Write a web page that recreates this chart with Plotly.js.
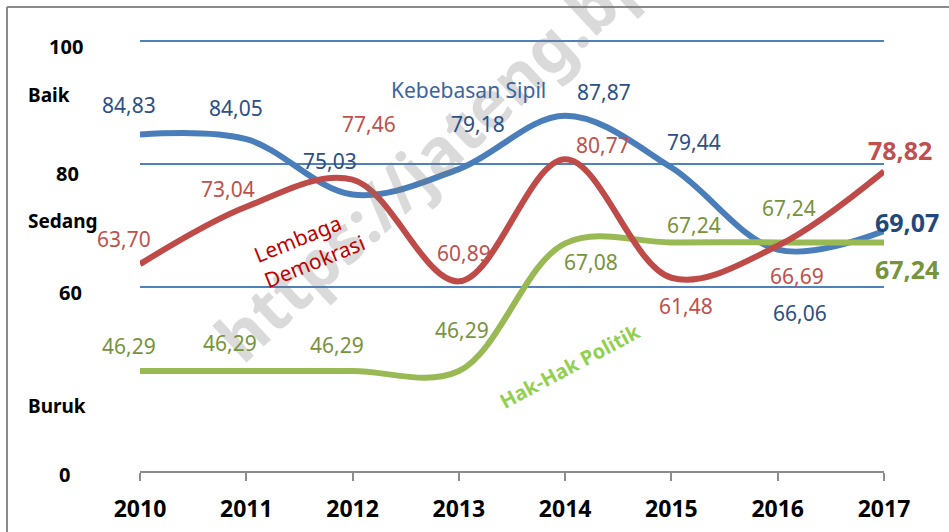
<!DOCTYPE html>
<html>
<head>
<meta charset="utf-8">
<script src="https://cdn.plot.ly/plotly-3.0.1.min.js"></script>
<style>html,body{margin:0;padding:0;background:#fff;}#chart{width:949px;height:532px;}</style>
</head>
<body>
<div id="chart"></div>
<script>
// ---- data ----
const years = [2010, 2011, 2012, 2013, 2014, 2015, 2016, 2017];
const kebebasanSipil = [84.83, 84.05, 75.03, 79.18, 87.87, 79.44, 66.06, 69.07];
const lembagaDemokrasi = [63.70, 73.04, 77.46, 60.89, 80.77, 61.48, 66.69, 78.82];
const hakHakPolitik = [46.29, 46.29, 46.29, 46.29, 67.08, 67.24, 67.24, 67.24];
const gridValues = [60, 80, 100];
const gridLabels = ['60', '80', '100'];
const categoryLabels = ['Baik', 'Sedang', 'Buruk'];
const seriesNames = ['Kebebasan Sipil', 'Lembaga Demokrasi', 'Hak-Hak Politik'];
const watermark = 'https://jateng.bps.go.id';

// ---- label offsets in pixels (dx right, dy down) ----
const blueOff = [[-11,-29],[-10,-31],[-23,-34],[19,-45],[39,-24],[23,-25],[22,63],[23,-9]];
const redOff  = [[-16,-25],[-18,-18],[16,-56],[5,-28],[38,-14],[15,28],[19,30],[16,-21]];
const greenOff= [[-11,-25],[-16,-28],[-16,-26],[3,-41],[26,19],[23,-17],[11,-34],[23,27]];

const L = 140, R = 65, T = 29, B = 61, W = 949, H = 532;
const pw = W - L - R, ph = H - T - B;
const px = p => (p - L) / pw;
const py = p => (H - B - p) / ph;

const FONT = 'Noto Sans, Liberation Sans, Arial, sans-serif';
const lineBlue = '#4A7EBB', lineRed = '#BE4B48', lineGreen = '#98B954';
const txtBlue = '#2C4F86', txtRed = '#C0504D', txtGreen = '#77933C';

const fmt = v => v.toFixed(2).replace('.', ',');

const traces = [
  {x: years, y: kebebasanSipil, name: seriesNames[0], mode: 'lines', line: {color: lineBlue, width: 6, shape: 'spline', smoothing: 1}, hoverinfo: 'skip'},
  {x: years, y: hakHakPolitik, name: seriesNames[2], mode: 'lines', line: {color: lineGreen, width: 6, shape: 'spline', smoothing: 1}, hoverinfo: 'skip'},
  {x: years, y: lembagaDemokrasi, name: seriesNames[1], mode: 'lines', line: {color: lineRed, width: 6, shape: 'spline', smoothing: 1}, hoverinfo: 'skip'}
];

const annotations = [];
// watermark (drawn first, beneath other annotations)
annotations.push({x: px(509), y: py(82), xref: 'paper', yref: 'paper', text: watermark, showarrow: false,
  textangle: -43, xanchor: 'center', yanchor: 'middle', font: {family: FONT, size: 66, color: 'rgba(120,120,120,0.27)', weight: 'bold'}});

function valueLabels(vals, offs, color) {
  vals.forEach((v, i) => {
    const last = i === vals.length - 1;
    annotations.push({
      x: years[i], y: v, xref: 'x', yref: 'y', text: fmt(v), showarrow: false,
      xshift: offs[i][0], yshift: -offs[i][1], xanchor: 'center', yanchor: 'middle',
      font: {family: FONT, size: last ? 25 : 21, color: (last && color === txtBlue) ? '#1F497D' : color, weight: last ? 'bold' : 'normal'}
    });
  });
}
valueLabels(kebebasanSipil, blueOff, txtBlue);
valueLabels(lembagaDemokrasi, redOff, txtRed);
valueLabels(hakHakPolitik, greenOff, txtGreen);

// y-axis labels (numbers)
const gridLabelX = [70, 67, 66];
const gridLabelShift = [-6, -9, -5];
gridValues.forEach((v, i) => {
  annotations.push({x: px(gridLabelX[i]), y: v, xref: 'paper', yref: 'y', yshift: gridLabelShift[i],
    text: gridLabels[i], showarrow: false, xanchor: 'center', yanchor: 'middle',
    font: {family: FONT, size: 20, color: '#000', weight: 'bold'}});
});
annotations.push({x: px(64), y: py(474), xref: 'paper', yref: 'paper', text: '0', showarrow: false,
  xanchor: 'center', yanchor: 'middle', font: {family: FONT, size: 20, color: '#000', weight: 'bold'}});
// category labels
const catY = [95, 221, 406];
categoryLabels.forEach((t, i) => {
  annotations.push({x: px(26), y: py(catY[i]), xref: 'paper', yref: 'paper', text: t, showarrow: false,
    xanchor: 'left', yanchor: 'middle', font: {family: FONT, size: 19, color: '#000', weight: 'bold'}});
});
// series labels
annotations.push({x: px(468), y: py(90), xref: 'paper', yref: 'paper', text: seriesNames[0], showarrow: false,
  xanchor: 'center', yanchor: 'middle', font: {family: FONT, size: 21, color: '#3B64A0'}});
annotations.push({x: px(309), y: py(248), xref: 'paper', yref: 'paper', text: 'Lembaga<br>Demokrasi', showarrow: false,
  align: 'left', textangle: -22, xanchor: 'center', yanchor: 'middle', font: {family: FONT, size: 21, color: '#C00000'}});
annotations.push({x: px(569), y: py(366), xref: 'paper', yref: 'paper', text: seriesNames[2], showarrow: false,
  textangle: -28, xanchor: 'center', yanchor: 'middle', font: {family: FONT, size: 20, color: '#92D050', weight: 'bold'}});

const shapes = [
  {type: 'line', xref: 'paper', yref: 'paper', x0: px(7), x1: px(949), y0: py(7), y1: py(7), line: {color: '#8a8a8a', width: 2}},
  {type: 'line', xref: 'paper', yref: 'paper', x0: px(7), x1: px(7), y0: py(7), y1: py(532), line: {color: '#8a8a8a', width: 2}}
];

const layout = {
  width: W, height: H,
  margin: {l: L, r: R, t: T, b: B, pad: 0},
  paper_bgcolor: '#fff', plot_bgcolor: '#fff',
  showlegend: false,
  xaxis: {range: [2010, 2017], tickvals: years, ticktext: years.map(String), showgrid: false, zeroline: false,
    showline: true, linecolor: '#8c8c8c', linewidth: 2, ticks: 'outside', ticklen: 8, tickwidth: 2, tickcolor: '#8c8c8c',
    ticklabelstandoff: 8, tickfont: {family: FONT, size: 23, color: '#000', weight: 'bold'}, fixedrange: true},
  yaxis: {range: [30, 102], tickvals: gridValues, showticklabels: false, showgrid: true, gridcolor: '#4F81BD', gridwidth: 2,
    zeroline: false, showline: false, ticks: '', fixedrange: true},
  annotations: annotations,
  shapes: shapes
};

Plotly.newPlot('chart', traces, layout, {staticPlot: true, displayModeBar: false});
</script>
</body>
</html>
